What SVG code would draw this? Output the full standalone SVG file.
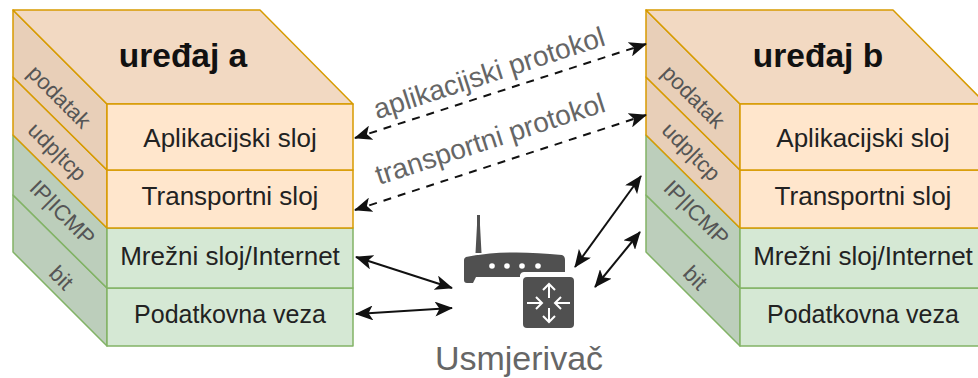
<svg xmlns="http://www.w3.org/2000/svg" width="978" height="378" viewBox="0 0 978 378">
<style>
text{font-family:"Liberation Sans",Arial,sans-serif;text-anchor:middle}
.o{stroke:#d79b00;stroke-width:1.5;stroke-linejoin:round}
.g{stroke:#82b366;stroke-width:1.5;stroke-linejoin:round}
.of{fill:#ffe6cc}.ot{fill:#f2d9c2}.os{fill:#e8cfb8}
.gf{fill:#d5e8d4}.gs{fill:#bccebb}
.t{font-size:26px;fill:#222}
.v{font-size:25px;fill:#222}
.h{font-size:33.500px;font-weight:bold;fill:#111}
.s{font-size:22px;fill:#555}
.p{font-size:28px;fill:#666}
.c{fill:none;stroke:#111;stroke-width:2}
.d{stroke-dasharray:8 7}
.rt{fill:#505050}
.ra{fill:none;stroke:#fff;stroke-width:2}
</style>
<defs>
<marker id="ah" viewBox="0 0 18 15" refX="17" refY="7.500" markerWidth="18" markerHeight="15" markerUnits="userSpaceOnUse" orient="auto-start-reverse"><path d="M0 0L18 7.500L0 15L4.500 7.500Z" fill="#111"/></marker>
<g id="stack">
<path class="gs g" d="M0 185L94 278V336L0 242Z"/>
<path class="gs g" d="M0 125L94 218V278L0 185Z"/>
<path class="os o" d="M0 67L94 160V218L0 125Z"/>
<path class="os o" d="M0 0L94 94V160L0 67Z"/>
<path class="ot o" d="M0 0H247L340 94H94Z"/>
<rect class="gf g" x="94" y="278" width="246" height="58"/>
<rect class="gf g" x="94" y="218" width="246" height="60"/>
<rect class="of o" x="94" y="160" width="246" height="58"/>
<rect class="of o" x="94" y="94" width="246" height="66"/>
</g>
</defs>
<g id="device-a" transform="translate(13 10)">
<use href="#stack"/>
<text class="h" x="170" y="57">uređaj a</text>
<text class="t" x="217" y="137">Aplikacijski sloj</text>
<text class="t" x="217" y="195">Transportni sloj</text>
<text class="t" x="217" y="255">Mrežni sloj/Internet</text>
<text class="v" x="217" y="313">Podatkovna veza</text>
<text class="s" transform="translate(41 92) rotate(45)">podatak</text>
<text class="s" transform="translate(39 147) rotate(45)">udp|tcp</text>
<text class="s" transform="translate(44 208) rotate(45)">IP|ICMP</text>
<text class="s" transform="translate(43 273) rotate(45)">bit</text>
</g>
<g id="device-b" transform="translate(646 10)">
<use href="#stack"/>
<text class="h" x="172" y="57">uređaj b</text>
<text class="t" x="217" y="137">Aplikacijski sloj</text>
<text class="t" x="217" y="195">Transportni sloj</text>
<text class="t" x="217" y="255">Mrežni sloj/Internet</text>
<text class="v" x="217" y="313">Podatkovna veza</text>
<text class="s" transform="translate(42 92) rotate(45)">podatak</text>
<text class="s" transform="translate(40 147) rotate(45)">udp|tcp</text>
<text class="s" transform="translate(45 208) rotate(45)">IP|ICMP</text>
<text class="s" transform="translate(44 273) rotate(45)">bit</text>
</g>
<g id="connectors">
<path class="c d" d="M355 138L646 44" marker-start="url(#ah)" marker-end="url(#ah)"/>
<path class="c d" d="M355 210L646 115" marker-start="url(#ah)" marker-end="url(#ah)"/>
<path class="c" d="M356 257L452 288" marker-start="url(#ah)" marker-end="url(#ah)"/>
<path class="c" d="M356 314L452 308" marker-start="url(#ah)" marker-end="url(#ah)"/>
<path class="c" d="M575 267L641 176" marker-start="url(#ah)" marker-end="url(#ah)"/>
<path class="c" d="M595 287L640 232" marker-start="url(#ah)" marker-end="url(#ah)"/>
</g>
<text class="p" transform="translate(492 82) rotate(-18)">aplikacijski protokol</text>
<text class="p" transform="translate(493 148) rotate(-18)">transportni protokol</text>
<g id="router">
<path class="rt" d="M477 215h3v10l1.500 28h-6l1.500-28Z"/>
<path class="rt" d="M466 257Q505 249 562 255Q565 256 565 260V272H524Q521 272 520 275V277H476L473 283H467Q464 283 464 280V260Q464 258 466 257Z"/>
<g fill="#fff"><circle cx="492" cy="266" r="2.800"/><circle cx="507" cy="266" r="2.800"/><circle cx="522" cy="266" r="2.800"/><circle cx="538" cy="266" r="2.800"/></g>
<rect class="rt" x="523" y="277" width="51" height="51" rx="4"/>
<g class="ra">
<path d="M549 284V298M543 290L549 284L555 290"/>
<path d="M549 308V322M543 316L549 322L555 316"/>
<path d="M527 303H542M536 297L542 303L536 309"/>
<path d="M570 303H555M561 297L555 303L561 309"/>
</g>
</g>
<text id="router-label" x="519" y="370" style="font-size:34px;fill:#666">Usmjerivač</text>
</svg>
